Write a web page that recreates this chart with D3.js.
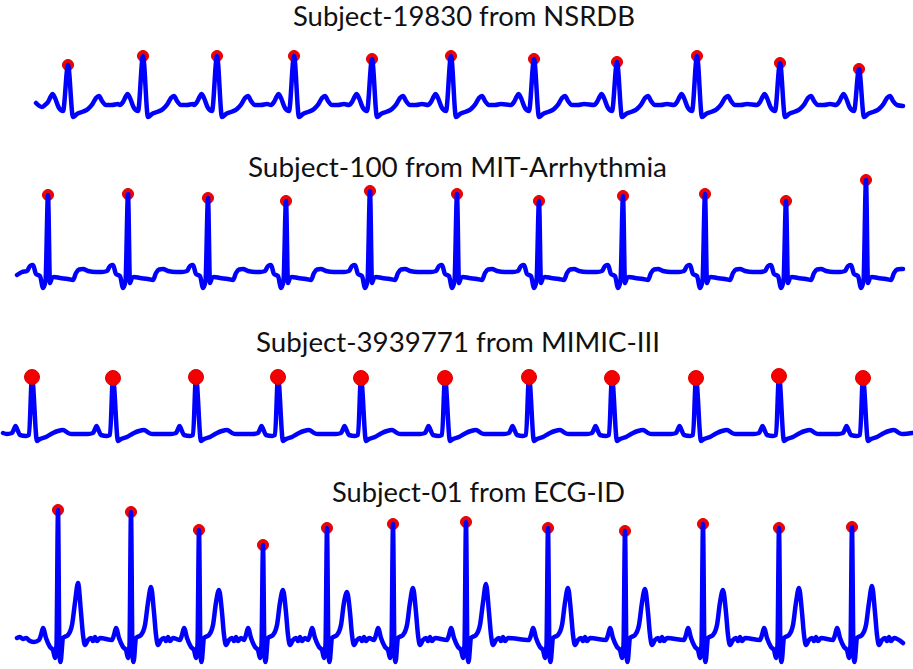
<!DOCTYPE html>
<html>
<head>
<meta charset="utf-8">
<script src="https://cdn.jsdelivr.net/npm/d3@7"></script>
<style>
  html, body { margin: 0; padding: 0; background: #fff; }
  svg { display: block; }
</style>
</head>
<body>
<svg id="chart" width="913" height="669"></svg>
<script>
// ---------------- DATA (time in s, amplitude in mV) ----------------
const titles = [
  "Subject-19830 from NSRDB",
  "Subject-100 from MIT-Arrhythmia",
  "Subject-3939771 from MIMIC-III",
  "Subject-01 from ECG-ID"
];
const durations = [8.67, 8.86, 9.09, 8.86];

// Panel 1 : NSRDB
const nsrdbPeakTimes = [0.32, 1.07, 1.81, 2.58, 3.36, 4.15, 4.98, 5.81, 6.61, 7.44, 8.23];
const nsrdbPeakAmps  = [0.80, 0.98, 0.98, 0.98, 0.92, 0.98, 0.92, 0.86, 0.98, 0.84, 0.72];
const nsrdbBeat = [[-0.23, 0.00], [-0.20, 0.06], [-0.175, 0.16], [-0.155, 0.22], [-0.13, 0.14],
  [-0.09, -0.06], [-0.05, -0.12], [0, "R"], [0.05, -0.24], [0.09, -0.18], [0.14, -0.14],
  [0.20, -0.08], [0.245, 0.02], [0.28, 0.14], [0.31, 0.18], [0.34, 0.08], [0.38, 0.00],
  [0.44, 0.00], [0.50, 0.02]];
const nsrdbEdges = [[0, 0.04], [0.06, -0.04], [8.67, -0.02]];

// Panel 2 : MIT-Arrhythmia
const mitPeakTimes = [0.31, 1.11, 1.91, 2.69, 3.53, 4.40, 5.22, 6.06, 6.88, 7.69, 8.49];
const mitPeakAmps  = [1.62, 1.64, 1.56, 1.50, 1.70, 1.64, 1.50, 1.60, 1.64, 1.50, 1.92];
const mitBeat = [[-0.26, 0.08], [-0.21, 0.10], [-0.18, 0.20], [-0.15, 0.22], [-0.12, 0.04],
  [-0.08, 0.00], [-0.05, -0.24], [-0.025, -0.10], [0, "R"], [0.02, -0.14], [0.04, -0.04],
  [0.06, -0.02], [0.12, -0.04], [0.20, -0.06], [0.25, -0.08], [0.28, 0.06], [0.31, 0.13],
  [0.35, 0.14], [0.40, 0.10], [0.48, 0.08]];
const mitEdges = [[0, 0.02], [8.86, 0.14]];

// Panel 3 : MIMIC-III
const mimicPeakTimes = [0.29, 1.10, 1.93, 2.75, 3.58, 4.42, 5.26, 6.09, 6.93, 7.76, 8.60];
const mimicPeakAmps  = [1.14, 1.12, 1.14, 1.14, 1.12, 1.12, 1.14, 1.12, 1.12, 1.16, 1.12];
const mimicBeat = [[-0.25, 0.00], [-0.20, 0.02], [-0.18, 0.10], [-0.165, 0.16], [-0.145, 0.08],
  [-0.12, -0.02], [-0.06, -0.04], [-0.03, -0.02], [0, "R"], [0.05, -0.14], [0.08, -0.10],
  [0.14, -0.06], [0.21, 0.02], [0.26, 0.06], [0.31, 0.08], [0.36, 0.02], [0.40, 0.00], [0.50, 0.00]];
const mimicEdges = [[0, 0.02], [9.09, 0.02]];

// Panel 4 : ECG-ID
const ecgidPeakTimes = [0.41, 1.14, 1.82, 2.46, 3.10, 3.76, 4.49, 5.31, 6.08, 6.86, 7.62, 8.35];
const ecgidPeakAmps  = [2.60, 2.56, 2.20, 1.90, 2.24, 2.32, 2.36, 2.24, 2.18, 2.32, 2.24, 2.26];
const ecgidTAmps     = [1.14, 1.06, 1.00, 1.00, 0.96, 1.04, 1.12, 1.04, 1.02, 1.00, 1.04, 1.08];
const ecgidBeat = [[-0.19, 0.00], [-0.17, 0.10], [-0.15, 0.24], [-0.12, 0.04], [-0.08, -0.14],
  [-0.05, -0.20], [-0.03, -0.36], [-0.015, -0.10], [0, "R"], [0.015, -0.30], [0.025, -0.44],
  [0.05, 0.04], [0.10, 0.10], [0.14, 0.30], [0.17, 0.75], [0.20, "T"], [0.23, 0.55],
  [0.25, 0.10], [0.27, -0.10], [0.30, 0.00], [0.33, 0.04], [0.35, -0.02], [0.37, 0.06],
  [0.39, -0.02], [0.42, 0.04]];
const ecgidEdges = [[0, 0.04], [0.03, 0.06], [0.06, 0.02], [0.09, 0.04], [0.13, -0.02],
  [0.17, -0.04], [8.86, -0.06]];

// ---------------- LAYOUT / STYLE ----------------
const layout = [
  { x0: 36, x1: 903, yDom: [-0.5, 1.5], yRange: [130, 30],  titleX: 293, titleY: 26,  titleW: 342, r: 5.5, dotsOnTop: false },
  { x0: 17, x1: 903, yDom: [-0.5, 2.0], yRange: [301, 176], titleX: 248, titleY: 177, titleW: 419, r: 5.5, dotsOnTop: false },
  { x0: 3,  x1: 912, yDom: [-0.5, 1.5], yRange: [459, 359], titleX: 256, titleY: 352, titleW: 404, r: 7.5, dotsOnTop: true },
  { x0: 17, x1: 903, yDom: [-0.6, 2.8], yRange: [670, 500], titleX: 332, titleY: 502, titleW: 293, r: 5.5, dotsOnTop: false }
];

const panels = [
  { peaks: nsrdbPeakTimes, amps: nsrdbPeakAmps, beat: nsrdbBeat, edges: nsrdbEdges },
  { peaks: mitPeakTimes,   amps: mitPeakAmps,   beat: mitBeat,   edges: mitEdges },
  { peaks: mimicPeakTimes, amps: mimicPeakAmps, beat: mimicBeat, edges: mimicEdges },
  { peaks: ecgidPeakTimes, amps: ecgidPeakAmps, beat: ecgidBeat, edges: ecgidEdges, tAmps: ecgidTAmps }
];

function buildTrace(p, duration) {
  const pts = p.edges.map(d => [d[0], d[1]]);
  p.peaks.forEach((t, i) => {
    p.beat.forEach(([dt, a]) => {
      const v = a === "R" ? p.amps[i] : a === "T" ? p.tAmps[i] : a;
      const tt = t + dt;
      if (tt > 0 && tt < duration) pts.push([tt, v]);
    });
  });
  pts.sort((a, b) => a[0] - b[0]);
  return pts;
}

const svg = d3.select("#chart");
svg.append("rect").attr("width", 913).attr("height", 669).attr("fill", "#fff");

panels.forEach((p, k) => {
  const L = layout[k];
  const x = d3.scaleLinear().domain([0, durations[k]]).range([L.x0, L.x1]);
  const y = d3.scaleLinear().domain(L.yDom).range(L.yRange);
  const g = svg.append("g");

  g.append("text")
    .attr("x", L.titleX).attr("y", L.titleY)
    .attr("textLength", L.titleW).attr("lengthAdjust", "spacingAndGlyphs")
    .attr("font-family", "Lato, 'Open Sans', sans-serif")
    .attr("font-size", 26).attr("fill", "#111")
    .text(titles[k]);

  const trace = buildTrace(p, durations[k]);
  const line = d3.line().x(d => x(d[0])).y(d => y(d[1])).curve(d3.curveMonotoneX);

  const drawDots = () => g.append("g").selectAll("circle")
    .data(p.peaks.map((t, i) => [t, p.amps[i]]))
    .join("circle")
    .attr("cx", d => x(d[0])).attr("cy", d => y(d[1]))
    .attr("r", L.r).attr("fill", "#f50000").attr("stroke", "#dd0000").attr("stroke-width", 1);
  const drawLine = () => g.append("path")
    .datum(trace)
    .attr("d", line)
    .attr("fill", "none").attr("stroke", "#0000ff")
    .attr("stroke-width", 4.5).attr("stroke-linejoin", "round").attr("stroke-linecap", "round");

  if (L.dotsOnTop) { drawLine(); drawDots(); } else { drawDots(); drawLine(); }
});
</script>
</body>
</html>
